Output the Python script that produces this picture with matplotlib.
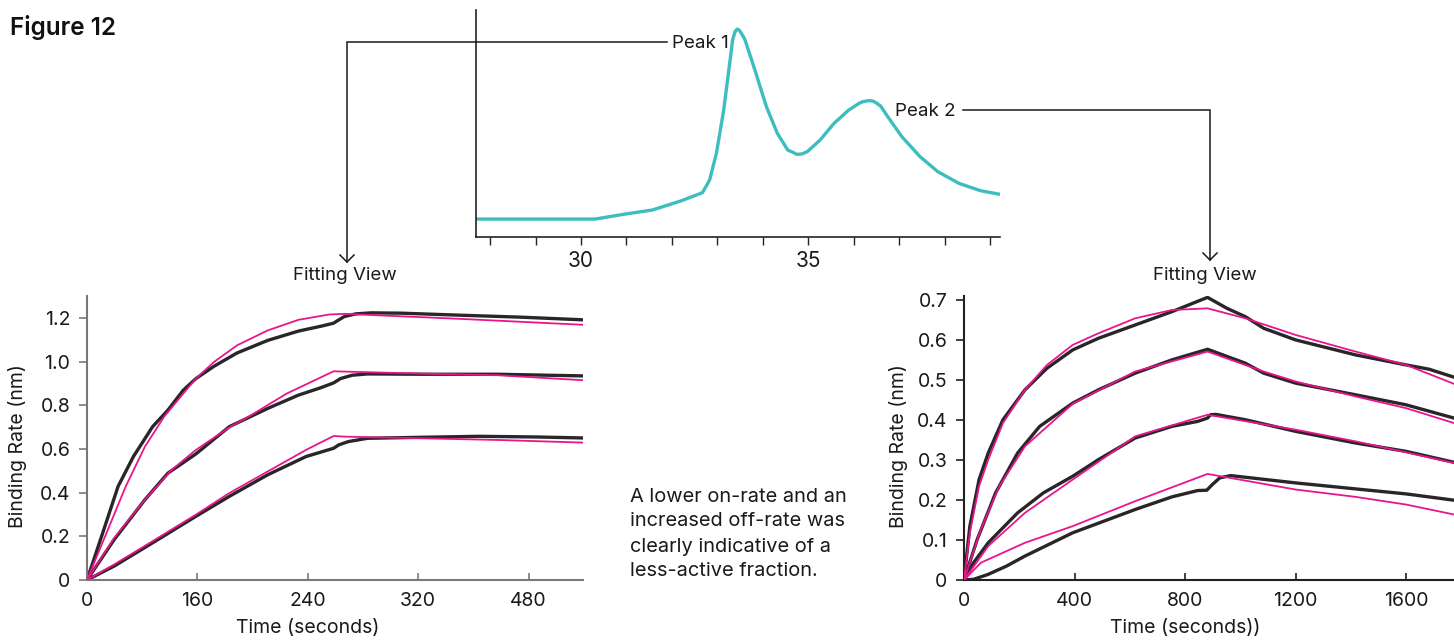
import matplotlib
matplotlib.use("Agg")
import matplotlib.pyplot as plt
from matplotlib.lines import Line2D

plt.rcParams['font.family'] = ['Inter', 'DejaVu Sans']

# ---------------- data ----------------
# Chromatogram (elution volume, relative absorbance)
chrom_x = [27.69, 30.31, 30.94, 31.57, 32.2, 32.67, 32.75, 32.83, 32.98, 33.14, 33.30, 33.336,
           33.391, 33.44, 33.493, 33.571, 33.61, 33.85, 34.08, 34.32, 34.55, 34.631, 34.75,
           34.866, 34.98, 35.26, 35.57, 35.89, 36.12, 36.201, 36.34, 36.436, 36.51, 36.593,
           36.75, 37.06, 37.46, 37.85, 38.32, 38.79, 39.22]
chrom_y = [0.079, 0.079, 0.10, 0.119, 0.159, 0.195, 0.222, 0.251, 0.369, 0.559, 0.809, 0.868,
           0.905, 0.916, 0.909, 0.883, 0.868, 0.721, 0.574, 0.457, 0.383, 0.376, 0.364,
           0.366, 0.376, 0.427, 0.501, 0.559, 0.589, 0.596, 0.601, 0.598, 0.589, 0.577,
           0.530, 0.442, 0.354, 0.288, 0.236, 0.204, 0.188]
chrom_ticks = [28, 29, 30, 31, 32, 33, 34, 35, 36, 37, 38, 39]
chrom_labels = ['', '', '30', '', '', '', '', '35', '', '', '', '']

# Left fitting view (Peak 1); zoom-pixel readings converted to data
def _lx(z):
    return [(v - 229) / 287.75 * 120 for v in z]

def _ly(z):
    return [(902 - v) / 658.3 for v in z]

L1_black_t = _lx([229, 270, 310, 350, 400, 440, 480, 513, 560, 620, 700, 780, 840, 872, 880, 900, 930, 970, 1050, 1200, 1360, 1522])
L1_black_v = _ly([902, 760, 620, 530, 440, 390, 330, 295, 258, 218, 180, 152, 137, 128, 122, 108, 100, 97, 98, 104, 110, 118])
L1_pink_t = _lx([229, 280, 330, 380, 430, 480, 513, 560, 620, 700, 780, 860, 900, 1000, 1200, 1522])
L1_pink_v = _ly([902, 760, 620, 500, 410, 340, 295, 245, 195, 150, 118, 102, 100, 105, 115, 133])
L2_black_t = _lx([229, 300, 380, 440, 513, 600, 700, 780, 840, 872, 890, 920, 960, 1100, 1300, 1522])
L2_black_v = _ly([902, 780, 660, 580, 522, 440, 385, 345, 322, 308, 295, 285, 281, 282, 282, 287])
L2_pink_t = _lx([229, 300, 380, 450, 513, 600, 650, 750, 872, 900, 1100, 1300, 1522])
L2_pink_v = _ly([902, 775, 660, 570, 510, 442, 410, 340, 273, 274, 280, 285, 300])
L3_black_t = _lx([229, 300, 400, 513, 600, 700, 800, 872, 885, 910, 960, 1100, 1250, 1400, 1522])
L3_black_v = _ly([902, 860, 790, 710, 650, 585, 530, 505, 495, 485, 475, 472, 469, 471, 474])
L3_pink_t = _lx([229, 300, 400, 513, 600, 700, 800, 872, 900, 1100, 1300, 1522])
L3_pink_v = _ly([902, 855, 785, 705, 640, 575, 510, 468, 470, 475, 480, 488])
left_ticks = [0, 120, 240, 360, 480]
left_tick_labels = ['0', '160', '240', '320', '480']
left_yticks = [0, 0.2, 0.4, 0.6, 0.8, 1.0, 1.2]
left_ytick_labels = ['0', '0.2', '0.4', '0.6', '0.8', '1.0', '1.2']

# Right fitting view (Peak 2)
def _rx(z):
    return [(v - 234) / 301 * 400 for v in z]

def _ry(z):
    return [(902 - v) / 1203 for v in z]

R1_black_t = _rx([234, 250, 275, 300, 340, 400, 460, 530, 600, 700, 800, 897, 950, 1000, 1050, 1137, 1300, 1437, 1500, 1568])
R1_black_v = _ry([902, 740, 600, 520, 420, 330, 265, 210, 175, 135, 95, 52, 85, 110, 145, 180, 225, 255, 268, 292])
R1_pink_t = _rx([234, 250, 275, 300, 340, 400, 460, 530, 600, 700, 800, 897, 1000, 1137, 1300, 1437, 1568])
R1_pink_v = _ry([902, 760, 620, 540, 430, 330, 255, 195, 160, 115, 90, 85, 115, 165, 215, 255, 312])
R2_black_t = _rx([234, 270, 320, 380, 440, 530, 600, 700, 800, 897, 1000, 1050, 1137, 1300, 1437, 1568])
R2_black_v = _ry([902, 780, 640, 520, 440, 370, 330, 280, 240, 208, 250, 280, 310, 345, 375, 415])
R2_pink_t = _rx([234, 280, 330, 400, 530, 700, 897, 1050, 1137, 1300, 1437, 1568])
R2_pink_v = _ry([902, 750, 620, 500, 372, 275, 215, 275, 305, 350, 385, 430])
R3_black_t = _rx([234, 260, 300, 380, 450, 530, 600, 700, 800, 870, 897, 905, 920, 1000, 1137, 1300, 1437, 1568])
R3_black_v = _ry([902, 850, 790, 700, 640, 590, 540, 475, 440, 425, 415, 405, 404, 420, 455, 490, 515, 548])
R3_pink_t = _rx([234, 300, 400, 530, 700, 897, 1137, 1300, 1437, 1568])
R3_pink_v = _ry([902, 800, 700, 600, 470, 405, 450, 485, 518, 550])
R4_black_t = _rx([234, 260, 300, 350, 400, 530, 700, 800, 870, 895, 910, 930, 960, 1137, 1300, 1437, 1568])
R4_black_v = _ry([902, 900, 885, 860, 830, 760, 690, 652, 633, 632, 615, 595, 588, 610, 628, 643, 662])
R4_pink_t = _rx([234, 280, 400, 530, 700, 897, 1137, 1300, 1437, 1568])
R4_pink_v = _ry([902, 850, 790, 740, 665, 583, 630, 652, 675, 705])
right_ticks = [0, 400, 800, 1200, 1600]
right_yticks = [0, 0.1, 0.2, 0.3, 0.4, 0.5, 0.6, 0.7]
right_ytick_labels = ['0', '0.1', '0.2', '0.3', '0.4', '0.5', '0.6', '0.7']

text_note = "A lower on-rate and an\nincreased off-rate was\nclearly indicative of a\nless-active fraction."

# ---------------- styling ----------------
W, H = 1454, 641
fig = plt.figure(figsize=(W / 100, H / 100), dpi=100)
CYAN = '#3dbdbf'
PINK = '#e8158c'
BLACK = '#2a2526'
TXT = '#1a1a1a'
FS = 13.5
TICKFS = 14
LABFS = 14

def fx(px):
    return px / W

def fy(py):
    return 1 - py / H

# Chromatogram
axc = fig.add_axes([fx(476), fy(237), fx(1000) - fx(476), fy(10) - fy(237)])
axc.plot(chrom_x, chrom_y, color=CYAN, lw=2.4, solid_joinstyle='round', solid_capstyle='round')
axc.set_xlim(27.69, 39.22)
axc.set_ylim(0, 1)
axc.spines['top'].set_visible(False)
axc.spines['right'].set_visible(False)
for s in ('left', 'bottom'):
    axc.spines[s].set_color('#222222')
    axc.spines[s].set_linewidth(1.2)
axc.set_yticks([])
axc.set_xticks(chrom_ticks)
axc.set_xticklabels(chrom_labels, fontsize=15, color=TXT)
axc.tick_params(axis='x', direction='out', length=6, width=1, color='#222222', pad=4)
axc.patch.set_alpha(0)

# Fitting views
def style_ax(ax, spine_col):
    ax.spines['top'].set_visible(False)
    ax.spines['right'].set_visible(False)
    for s in ('left', 'bottom'):
        ax.spines[s].set_color(spine_col)
        ax.spines[s].set_linewidth(1.5)
    ax.tick_params(axis='y', direction='out', length=6, width=1.2, color=spine_col, labelsize=TICKFS, labelcolor=TXT, pad=6)
    ax.tick_params(axis='x', direction='in', length=5, width=1.2, color=spine_col, labelsize=TICKFS, labelcolor=TXT, pad=9)

def labels(ax, xlabel, xcenter, ylab_x):
    ax.text(xcenter, -48 / 284, xlabel, transform=ax.get_xaxis_transform(), fontsize=LABFS,
            color=TXT, ha='center', va='center')
    ax.text(ylab_x, 0.472, 'Binding Rate (nm)', transform=ax.transAxes, fontsize=LABFS,
            color=TXT, ha='center', va='center', rotation=90)

axl = fig.add_axes([fx(87), fy(580), fx(583) - fx(87), fy(296) - fy(580)])
for t, v in [(L1_pink_t, L1_pink_v), (L2_pink_t, L2_pink_v), (L3_pink_t, L3_pink_v)]:
    axl.plot(t, v, color=PINK, lw=1.3, zorder=3)
for t, v in [(L1_black_t, L1_black_v), (L2_black_t, L2_black_v), (L3_black_t, L3_black_v)]:
    axl.plot(t, v, color=BLACK, lw=2.4, zorder=2, solid_joinstyle='round')
axl.set_xlim(0, (1522 - 229) / 287.75 * 120)
axl.set_ylim(0, 1.30)
axl.set_xticks(left_ticks)
axl.set_xticklabels(left_tick_labels)
axl.set_yticks(left_yticks)
axl.set_yticklabels(left_ytick_labels)
style_ax(axl, '#7d7877')
labels(axl, 'Time (seconds)', left_ticks[2], (18 - 87) / 496)

axr = fig.add_axes([fx(964), fy(580), 1 - fx(964), fy(296) - fy(580)])
for t, v in [(R1_pink_t, R1_pink_v), (R2_pink_t, R2_pink_v), (R3_pink_t, R3_pink_v), (R4_pink_t, R4_pink_v)]:
    axr.plot(t, v, color=PINK, lw=1.3, zorder=3)
for t, v in [(R1_black_t, R1_black_v), (R2_black_t, R2_black_v), (R3_black_t, R3_black_v), (R4_black_t, R4_black_v)]:
    axr.plot(t, v, color=BLACK, lw=2.4, zorder=2, solid_joinstyle='round')
axr.set_xlim(0, (1568 - 234) / 301 * 400)
axr.set_ylim(0, 0.71)
axr.set_xticks(right_ticks)
axr.set_xticklabels([str(v) for v in right_ticks])
axr.set_yticks(right_yticks)
axr.set_yticklabels(right_ytick_labels)
style_ax(axr, '#231f20')
labels(axr, 'Time (seconds))', right_ticks[2], (899 - 964) / (W - 964))

# Annotations (figure level)
lc = '#1a1a1a'
def fline(xs, ys):
    fig.add_artist(Line2D([fx(x) for x in xs], [fy(y) for y in ys], color=lc, lw=1.1,
                          transform=fig.transFigure, solid_joinstyle='miter'))

# Peak 1 leader
fline([667, 347, 347], [42, 42, 262])
fline([340, 347, 354], [255, 262, 255])
fig.text(fx(672), fy(44), 'Peak 1', fontsize=FS, color=TXT, va='center', ha='left')
fig.text(fx(345), fy(275), 'Fitting View', fontsize=FS, color=TXT, va='center', ha='center')

# Peak 2 leader
fline([963, 1210, 1210], [110, 110, 260])
fline([1203, 1210, 1217], [253, 260, 253])
fig.text(fx(895), fy(111), 'Peak 2', fontsize=FS, color=TXT, va='center', ha='left')
fig.text(fx(1205), fy(275), 'Fitting View', fontsize=FS, color=TXT, va='center', ha='center')

fig.text(fx(10), fy(28), 'Figure 12', fontsize=17.5, fontweight='semibold', color='#111111', va='center', ha='left')
fig.text(fx(630), fy(534), text_note, fontsize=14.4, color=TXT, va='center', ha='left', linespacing=1.5)

fig.savefig('out.png', dpi=100)
